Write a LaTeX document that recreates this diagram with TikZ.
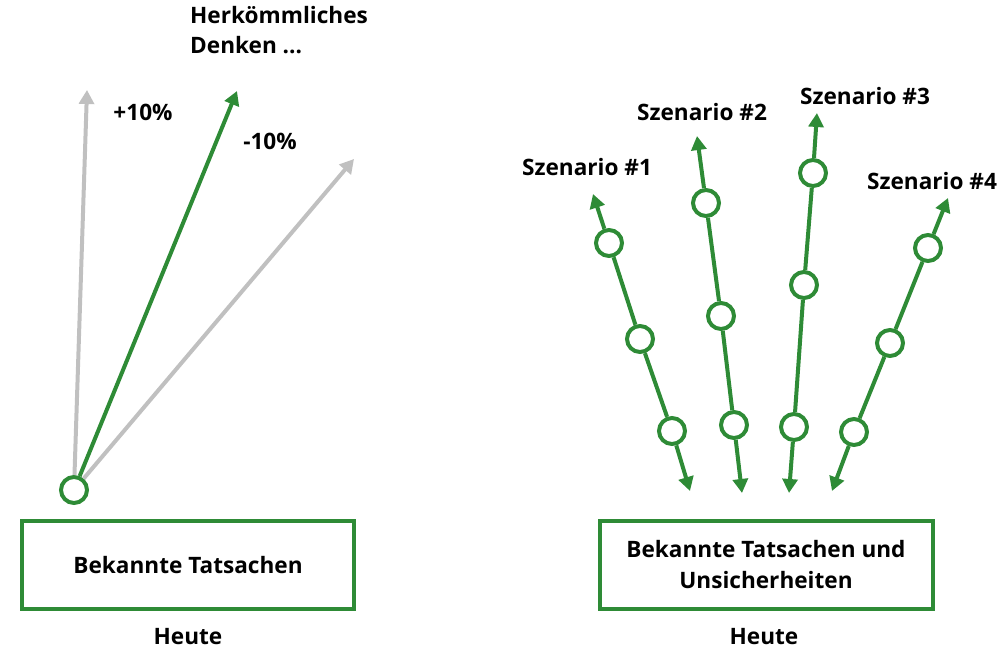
\documentclass[tikz,border=0pt]{standalone}
\usepackage{fontspec}
\setmainfont{Open Sans}
\usetikzlibrary{arrows.meta}
\definecolor{sgreen}{RGB}{46,139,54}
\definecolor{sgray}{RGB}{192,192,192}
\tikzset{
  dot/.style={circle, draw=sgreen, line width=4pt, fill=white, minimum size=26pt, inner sep=0pt},
  tip/.style={-{Triangle[length=14pt,width=15pt]}},
  gline/.style={draw=sgreen, line width=4pt},
  grayline/.style={draw=sgray, line width=4pt},
  lbl/.style={font=\bfseries\fontsize{22.6}{30}\selectfont, inner sep=0pt},
  fact/.style={draw=sgreen, line width=4pt, align=center, inner sep=0pt,
    font=\bfseries\fontsize{22.6}{31}\selectfont}
}
\begin{document}
\begin{tikzpicture}[x=1pt,y=-1pt]
    \useasboundingbox (0,0) rectangle (1002,650);
    \node[dot] (start) at (74,490) {};
    \coordinate (plusend) at (87,90);
    \coordinate (convend) at (237,91);
    \coordinate (minusend) at (354,159);
    \draw[grayline, tip] (start) -- (plusend);
    \draw[grayline, tip] (start) -- (minusend);
    \draw[gline, tip] (start) -- (convend);
    \node[lbl] (plus) at (143,112) {+10\%};
    \node[lbl] (minus) at (270,141) {-10\%};
    \node[lbl, anchor=north west, align=left] (conv) at (190,6) {Herkömmliches\\Denken ...};
    \node[fact, minimum width=332pt, minimum height=88pt] (known) at (188,565) {Bekannte Tatsachen};
    \node[lbl] (today) at (188,637) {Heute};

    \coordinate (b1) at (690,491);
    \coordinate (t1) at (593,194);
    \node[dot] (s11) at (672,431) {};
    \node[dot] (s12) at (640,339) {};
    \node[dot] (s13) at (609,243) {};
    \draw[gline, tip] (s11) -- (b1);
    \draw[gline] (s11) -- (s12);
    \draw[gline] (s12) -- (s13);
    \draw[gline, tip] (s13) -- (t1);

    \coordinate (b2) at (742,493);
    \coordinate (t2) at (697,136);
    \node[dot] (s21) at (734,425) {};
    \node[dot] (s22) at (721,316) {};
    \node[dot] (s23) at (706,203) {};
    \draw[gline, tip] (s21) -- (b2);
    \draw[gline] (s21) -- (s22);
    \draw[gline] (s22) -- (s23);
    \draw[gline, tip] (s23) -- (t2);

    \coordinate (b3) at (789,493);
    \coordinate (t3) at (817,113);
    \node[dot] (s31) at (794,427) {};
    \node[dot] (s32) at (804,285) {};
    \node[dot] (s33) at (813,173) {};
    \draw[gline, tip] (s31) -- (b3);
    \draw[gline] (s31) -- (s32);
    \draw[gline] (s32) -- (s33);
    \draw[gline, tip] (s33) -- (t3);

    \coordinate (b4) at (832,491);
    \coordinate (t4) at (948,198);
    \node[dot] (s41) at (854,432) {};
    \node[dot] (s42) at (890,343) {};
    \node[dot] (s43) at (928,248) {};
    \draw[gline, tip] (s41) -- (b4);
    \draw[gline] (s41) -- (s42);
    \draw[gline] (s42) -- (s43);
    \draw[gline, tip] (s43) -- (t4);

    \node[lbl] (sc1) at (587,167) {Szenario \#1};
    \node[lbl] (sc2) at (702,112) {Szenario \#2};
    \node[lbl] (sc3) at (865,96) {Szenario \#3};
    \node[lbl] (sc4) at (932,181) {Szenario \#4};
    \node[fact, minimum width=333pt, minimum height=88pt] (unsure) at (766,565) {Bekannte Tatsachen und\\Unsicherheiten};
    \node[lbl] (today2) at (764,637) {Heute};
\end{tikzpicture}
\end{document}
